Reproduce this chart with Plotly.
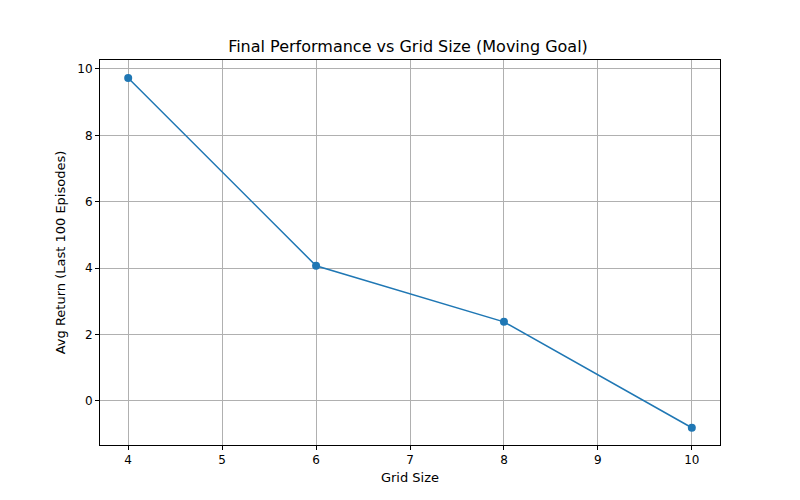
import plotly.graph_objects as go

grid_sizes = [4, 6, 8, 10]
avg_returns = [9.73, 4.07, 2.38, -0.81]

fig = go.Figure(go.Scatter(
    x=grid_sizes, y=avg_returns, mode="lines+markers",
    line=dict(color="#1f77b4", width=1.5),
    marker=dict(color="#1f77b4", size=8),
))

axis_style = dict(
    showgrid=True, gridcolor="#b0b0b0", gridwidth=1,
    showline=True, linecolor="black", linewidth=1, mirror=True,
    ticks="outside", ticklen=4, tickcolor="black",
    zeroline=False, tickfont=dict(size=12, color="black"),
)

fig.update_layout(
    width=800, height=500,
    paper_bgcolor="white", plot_bgcolor="white",
    font=dict(family="DejaVu Sans", color="black"),
    title=dict(text="Final Performance vs Grid Size (Moving Goal)",
               x=0.5, xanchor="center", y=0.935, font=dict(size=16)),
    margin=dict(l=92, r=88, t=52, b=63),
    showlegend=False,
)
fig.update_xaxes(range=[3.7, 10.3], dtick=1,
                 title=dict(text="Grid Size", font=dict(size=13), standoff=6), **axis_style)
fig.update_yaxes(range=[-1.33, 10.27], dtick=2,
                 title=dict(text="Avg Return (Last 100 Episodes)", font=dict(size=13), standoff=8), **axis_style)

fig.write_html("out.html")
